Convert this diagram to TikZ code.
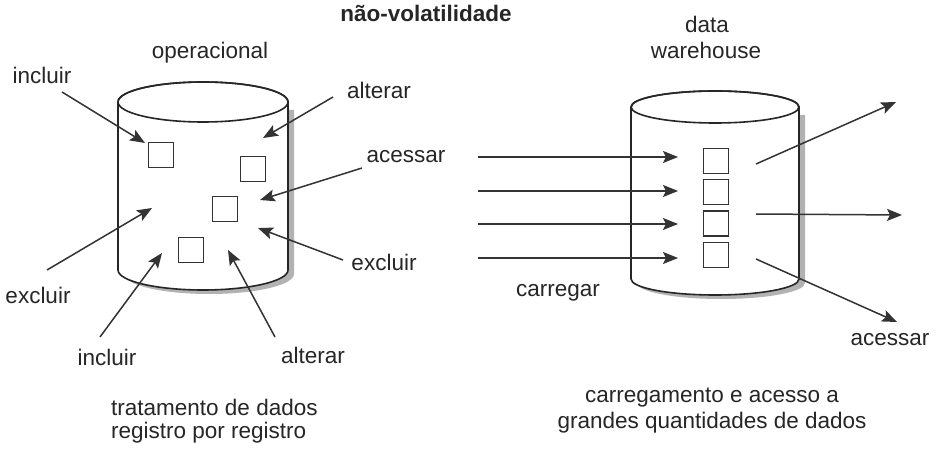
\documentclass[tikz,border=0pt]{standalone}
\usepackage{fontspec}
\setmainfont{Liberation Sans}
\usetikzlibrary{arrows.meta}
\tikzset{
  lbl/.style={inner sep=0pt, font=\fontsize{22.5}{25}\selectfont, text=black!85},
  ttl/.style={inner sep=0pt, font=\fontsize{22.5}{25}\selectfont\bfseries, text=black!85},
  arr/.style={line width=1.5pt, draw=black!80, -{Stealth[length=15pt,width=12pt,inset=3pt]}},
  rec/.style={draw=black!80, line width=1.5pt, fill=white, minimum size=25pt, inner sep=0pt},
  cyl/.style={draw=black!85, line width=1.6pt, fill=white},
  shad/.style={fill=black!30, draw=none}
}
\begin{document}
\begin{tikzpicture}[x=1pt,y=1pt]
\useasboundingbox (0,0) rectangle (936,450);
\fill[white] (0,0) rectangle (936,450);

% ---------- left cylinder (operacional) ----------
\fill[shad] (124,340) -- (124,176) arc[start angle=180,end angle=360,x radius=85pt,y radius=20pt] -- (294,340) -- cycle;
\path[cyl] (118,348) -- (118,180) arc[start angle=180,end angle=360,x radius=85pt,y radius=20pt] -- (288,348) arc[start angle=0,end angle=180,x radius=85pt,y radius=20pt] -- cycle;
\draw[cyl, fill=none] (203,348) ellipse[x radius=85pt, y radius=20pt];

\node[rec] (s1) at (161,295) {};
\node[rec] (s2) at (253,281) {};
\node[rec] (s3) at (225,241) {};
\node[rec] (s4) at (191,200) {};

% ---------- right cylinder (data warehouse) ----------
\fill[shad] (637,335) -- (637,167) arc[start angle=180,end angle=360,x radius=84pt,y radius=16pt] -- (805,335) -- cycle;
\path[cyl] (631,343) -- (631,171) arc[start angle=180,end angle=360,x radius=84pt,y radius=16pt] -- (799,343) arc[start angle=0,end angle=180,x radius=84pt,y radius=16pt] -- cycle;
\draw[cyl, fill=none] (715,343) ellipse[x radius=84pt, y radius=16pt];

\node[rec] (r1) at (716,289) {};
\node[rec] (r2) at (716,258) {};
\node[rec] (r3) at (716,226.5) {};
\node[rec] (r4) at (716,195) {};

% ---------- labels ----------
\node[ttl] (tit) at (426,437) {não-volatilidade};
\node[lbl] (op) at (210,397) {operacional};
\node[lbl] (dw1) at (707,426) {data};
\node[lbl] (dw2) at (706,400) {warehouse};

\node[lbl] (inc1) at (42,375) {incluir};
\node[lbl] (alt1) at (379,360) {alterar};
\node[lbl] (ace1) at (406,293) {acessar};
\node[lbl] (exc1) at (384,188) {excluir};
\node[lbl] (exc2) at (38,155) {excluir};
\node[lbl] (inc2) at (107,93) {incluir};
\node[lbl] (alt2) at (313,95) {alterar};
\node[lbl, anchor=west] (trat1) at (111,43) {tratamento de dados};
\node[lbl, anchor=west] (trat2) at (111,17) {registro por registro};

\node[lbl] (carr) at (558,157) {carregar};
\node[lbl] (ace2) at (890,110) {acessar};
\node[lbl] (car1) at (712,52) {carregamento e acesso a};
\node[lbl] (car2) at (712,27) {grandes quantidades de dados};

% ---------- left arrows ----------
\coordinate (a1s) at (62,358);  \coordinate (a1e) at (145,307);
\coordinate (a2s) at (333,353); \coordinate (a2e) at (263,312);
\coordinate (a3s) at (362,282); \coordinate (a3e) at (260,250);
\coordinate (a4s) at (343,190); \coordinate (a4e) at (258,222);
\coordinate (a5s) at (47,180);  \coordinate (a5e) at (152,242);
\coordinate (a6s) at (100,113); \coordinate (a6e) at (162,197);
\coordinate (a7s) at (275,113); \coordinate (a7e) at (228,200);
\draw[arr] (a1s) -- (a1e);
\draw[arr] (a2s) -- (a2e);
\draw[arr] (a3s) -- (a3e);
\draw[arr] (a4s) -- (a4e);
\draw[arr] (a5s) -- (a5e);
\draw[arr] (a6s) -- (a6e);
\draw[arr] (a7s) -- (a7e);

% ---------- right arrows ----------
\coordinate (b1s) at (478,293); \coordinate (b1e) at (678,293);
\coordinate (b2s) at (478,259); \coordinate (b2e) at (678,259);
\coordinate (b3s) at (478,226); \coordinate (b3e) at (678,226);
\coordinate (b4s) at (478,192); \coordinate (b4e) at (678,192);
\draw[arr] (b1s) -- (b1e);
\draw[arr] (b2s) -- (b2e);
\draw[arr] (b3s) -- (b3e);
\draw[arr] (b4s) -- (b4e);

\coordinate (c1s) at (756,286); \coordinate (c1e) at (896,348);
\coordinate (c2s) at (756,236); \coordinate (c2e) at (902,235);
\coordinate (c3s) at (756,191); \coordinate (c3e) at (897,128);
\draw[arr] (c1s) -- (c1e);
\draw[arr] (c2s) -- (c2e);
\draw[arr] (c3s) -- (c3e);
\end{tikzpicture}
\end{document}
